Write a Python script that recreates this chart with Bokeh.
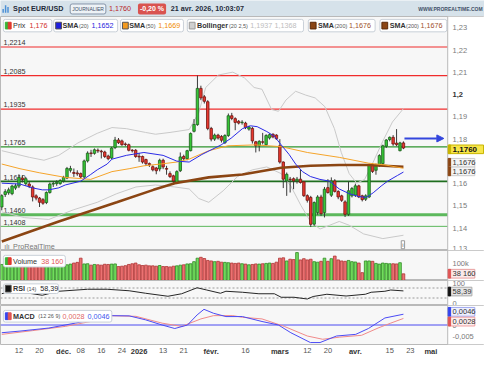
from bokeh.plotting import figure
from bokeh.layouts import column
from bokeh.models import (Range1d, FixedTicker, Label, BoxAnnotation, Arrow,
                          NormalHead, ColumnDataSource, Span, LinearAxis)
from bokeh.core.properties import value
from bokeh.embed import file_html
from bokeh.resources import INLINE

FONT = "Liberation Sans"

# ---------------- data ----------------
opens = [1.1495, 1.1551, 1.1559, 1.1555, 1.1580, 1.1589, 1.1625, 1.1600, 1.1598, 1.1585,
         1.1545, 1.1535, 1.1528, 1.1515, 1.1560, 1.1598, 1.1600, 1.1600, 1.1612, 1.1625,
         1.1660, 1.1650, 1.1648, 1.1645, 1.1630, 1.1702, 1.1738, 1.1736, 1.1750, 1.1746,
         1.1742, 1.1724, 1.1715, 1.1762, 1.1796, 1.1792, 1.1778, 1.1775, 1.1750, 1.1750,
         1.1723, 1.1722, 1.1708, 1.1690, 1.1676, 1.1670, 1.1666, 1.1705, 1.1668, 1.1645,
         1.1635, 1.1605, 1.1658, 1.1722, 1.1712, 1.1748, 1.1835, 1.1865, 1.2028, 1.1990,
         1.1968, 1.1848, 1.1800, 1.1818, 1.1812, 1.1784, 1.1816, 1.1905, 1.1892, 1.1880,
         1.1874, 1.1872, 1.1845, 1.1848, 1.1788, 1.1770, 1.1788, 1.1775, 1.1805, 1.1822,
         1.1818, 1.1770, 1.1697, 1.1612, 1.1620, 1.1622, 1.1612, 1.1620, 1.1608, 1.1546,
         1.1538, 1.1418, 1.1470, 1.1540, 1.1470, 1.1582, 1.1548, 1.1612, 1.1565, 1.1545,
         1.1518, 1.1462, 1.1545, 1.1548, 1.1590, 1.1545, 1.1530, 1.1540, 1.1684, 1.1660,
         1.1680, 1.1690, 1.1768, 1.1798, 1.1808, 1.1782, 1.1748, 1.1783]
highs = [1.1552, 1.1575, 1.1582, 1.1595, 1.1600, 1.1642, 1.1638, 1.1630, 1.1610, 1.1592,
         1.1552, 1.1540, 1.1535, 1.1565, 1.1605, 1.1610, 1.1615, 1.1620, 1.1635, 1.1675,
         1.1680, 1.1668, 1.1660, 1.1650, 1.1708, 1.1745, 1.1752, 1.1758, 1.1758, 1.1752,
         1.1748, 1.1730, 1.1765, 1.1810, 1.1805, 1.1798, 1.1785, 1.1780, 1.1755, 1.1755,
         1.1738, 1.1726, 1.1712, 1.1695, 1.1682, 1.1675, 1.1712, 1.1712, 1.1680, 1.1655,
         1.1640, 1.1660, 1.1740, 1.1730, 1.1752, 1.1830, 1.1890, 1.2086, 1.2040, 1.1998,
         1.1975, 1.1855, 1.1825, 1.1824, 1.1818, 1.1822, 1.1915, 1.1918, 1.1898, 1.1886,
         1.1885, 1.1878, 1.1860, 1.1855, 1.1792, 1.1795, 1.1828, 1.1822, 1.1826, 1.1826,
         1.1822, 1.1800, 1.1700, 1.1650, 1.1630, 1.1628, 1.1630, 1.1665, 1.1612, 1.1552,
         1.1545, 1.1520, 1.1548, 1.1550, 1.1585, 1.1620, 1.1628, 1.1620, 1.1570, 1.1550,
         1.1525, 1.1610, 1.1585, 1.1600, 1.1595, 1.1550, 1.1552, 1.1690, 1.1692, 1.1690,
         1.1732, 1.1775, 1.1800, 1.1812, 1.1818, 1.1845, 1.1788, 1.1790]
lows = [1.1480, 1.1540, 1.1550, 1.1548, 1.1572, 1.1580, 1.1605, 1.1590, 1.1580, 1.1520,
        1.1525, 1.1495, 1.1505, 1.1508, 1.1555, 1.1585, 1.1590, 1.1595, 1.1605, 1.1620,
        1.1650, 1.1630, 1.1635, 1.1622, 1.1625, 1.1695, 1.1720, 1.1730, 1.1738, 1.1713,
        1.1715, 1.1705, 1.1710, 1.1755, 1.1778, 1.1770, 1.1768, 1.1745, 1.1740, 1.1716,
        1.1698, 1.1690, 1.1680, 1.1675, 1.1655, 1.1642, 1.1655, 1.1665, 1.1640, 1.1625,
        1.1598, 1.1598, 1.1652, 1.1705, 1.1705, 1.1745, 1.1830, 1.1860, 1.1975, 1.1960,
        1.1840, 1.1790, 1.1792, 1.1798, 1.1785, 1.1778, 1.1810, 1.1885, 1.1840, 1.1866,
        1.1865, 1.1845, 1.1838, 1.1780, 1.1740, 1.1745, 1.1776, 1.1770, 1.1798, 1.1804,
        1.1796, 1.1690, 1.1580, 1.1545, 1.1560, 1.1575, 1.1600, 1.1600, 1.1540, 1.1515,
        1.1405, 1.1410, 1.1460, 1.1455, 1.1448, 1.1555, 1.1540, 1.1560, 1.1530, 1.1518,
        1.1450, 1.1455, 1.1538, 1.1540, 1.1535, 1.1520, 1.1522, 1.1535, 1.1648, 1.1640,
        1.1675, 1.1680, 1.1760, 1.1790, 1.1770, 1.1768, 1.1745, 1.1755]
closes = [1.1546, 1.1564, 1.1572, 1.1589, 1.1590, 1.1628, 1.1618, 1.1622, 1.1588, 1.1540,
          1.1535, 1.1516, 1.1512, 1.1560, 1.1598, 1.1601, 1.1606, 1.1614, 1.1628, 1.1668,
          1.1668, 1.1646, 1.1644, 1.1630, 1.1702, 1.1737, 1.1735, 1.1752, 1.1747, 1.1743,
          1.1722, 1.1712, 1.1760, 1.1796, 1.1784, 1.1775, 1.1776, 1.1750, 1.1748, 1.1722,
          1.1720, 1.1697, 1.1690, 1.1685, 1.1662, 1.1658, 1.1705, 1.1675, 1.1665, 1.1632,
          1.1612, 1.1654, 1.1720, 1.1712, 1.1748, 1.1825, 1.1866, 1.2028, 1.1985, 1.1970,
          1.1848, 1.1800, 1.1818, 1.1805, 1.1795, 1.1816, 1.1905, 1.1893, 1.1875, 1.1872,
          1.1876, 1.1852, 1.1855, 1.1792, 1.1770, 1.1790, 1.1786, 1.1816, 1.1820, 1.1810,
          1.1802, 1.1697, 1.1620, 1.1642, 1.1618, 1.1612, 1.1620, 1.1605, 1.1546, 1.1525,
          1.1417, 1.1515, 1.1540, 1.1465, 1.1575, 1.1560, 1.1612, 1.1565, 1.1540, 1.1525,
          1.1462, 1.1568, 1.1578, 1.1590, 1.1540, 1.1528, 1.1545, 1.1684, 1.1655, 1.1680,
          1.1726, 1.1770, 1.1796, 1.1808, 1.1778, 1.1775, 1.1783, 1.1760]
volumes = [92000, 95000, 90000, 93000, 88000, 95000, 92000, 90000, 93000, 95000,
           92000, 90000, 88000, 90000, 88000, 92000, 90000, 96000, 92000, 90000,
           94000, 100000, 104000, 128000, 95000, 96000, 88000, 92000, 90000, 88000,
           93000, 92000, 94000, 95000, 80000, 82000, 85000, 92000, 96000, 100000,
           90000, 86000, 88000, 84000, 84000, 82000, 86000, 80000, 80000, 78000,
           82000, 84000, 88000, 90000, 95000, 96000, 108000, 128000, 133000, 126000,
           115000, 112000, 108000, 110000, 105000, 104000, 102000, 100000, 98000, 100000,
           96000, 94000, 90000, 92000, 95000, 94000, 96000, 98000, 100000, 98000,
           105000, 128000, 130000, 112000, 122000, 120000, 160000, 118000, 125000, 118000,
           122000, 108000, 105000, 110000, 128000, 110000, 125000, 140000, 118000, 112000,
           110000, 115000, 108000, 106000, 100000, 45000, 112000, 112000, 110000, 98000,
           94000, 100000, 98000, 96000, 96000, 95000, 102000, 38160]

# x axis: weekday index (0 = 5 nov.); day ticks and (bold) month ticks
day_tick_idx = [5, 11, 23, 29, 35, 47, 53, 71, 89, 95, 113, 119]
day_tick_labels = ["12", "20", "08", "16", "24", "13", "21", "16", "12", "20", "15", "23"]
month_tick_idx = [18, 40, 61, 81, 103, 125]
month_tick_labels = ["déc.", "2026", "févr.", "mars", "avr.", "mai"]

price_ticks = [1.13, 1.14, 1.15, 1.16, 1.17, 1.18, 1.19, 1.21, 1.22, 1.23]
price_tick_labels = ["1,13", "1,14", "1,15", "1,16", "1,17", "1,18", "1,19", "1,21",
                     "1,22", "1,23"]
price_bold_ticks = [1.20]
price_bold_labels = ["1,2"]

res_levels = [1.2214, 1.2085, 1.1935]
sup_levels = [1.1765, 1.1610]
sup_levels_thick = [1.1460]
sup_levels_thin = [1.1408]

sma20_idx = [0, 5.3, 8.9, 11.8, 13.7, 16.6, 18.5, 23.0, 25.9, 27.8, 30.7, 32.1, 36.3, 41.4,
             47.0, 51.0, 54.6, 58.3, 63.9, 66.8, 70.1, 72.4, 74.4, 77.2, 79.4, 81.4, 83.7,
             85.6, 87.6, 89.9, 92.7, 95.5, 98.3, 101.2, 104.0, 106.2, 108.2, 110.5, 112.4,
             115.3, 117.0]
sma20_val = [1.1602, 1.1598, 1.1581, 1.1572, 1.1572, 1.1581, 1.1594, 1.1611, 1.1641, 1.1662,
             1.1688, 1.1710, 1.1727, 1.1740, 1.1727, 1.1701, 1.1697, 1.1731, 1.1774, 1.1804,
             1.1847, 1.1860, 1.1856, 1.1834, 1.1813, 1.1774, 1.1731, 1.1688, 1.1654, 1.1632,
             1.1619, 1.1611, 1.1576, 1.1555, 1.1542, 1.1538, 1.1559, 1.1589, 1.1611, 1.1637,
             1.1652]
sma50_idx = [0, 5.3, 10.9, 18.5, 25.9, 32.1, 37.1, 41.4, 46.2, 51.0, 54.6, 60.3, 65.9,
             73.8, 81.4, 89.0, 98.3, 106.8, 111.6, 117.0]
sma50_val = [1.1688, 1.1667, 1.1649, 1.1628, 1.1619, 1.1654, 1.1667, 1.1680, 1.1688, 1.1697,
             1.1710, 1.1748, 1.1770, 1.1774, 1.1766, 1.1740, 1.1718, 1.1692, 1.1684, 1.1669]
sma200_idx = [0, 16.6, 33.5, 44.2, 50.4, 60.3, 70.1, 81.4, 89.9, 98.3, 106.8, 117.0]
sma200_val = [1.1340, 1.1430, 1.1516, 1.1572, 1.1602, 1.1628, 1.1641, 1.1671, 1.1680,
              1.1684, 1.1684, 1.1676]
boll_up_idx = [0, 8.1, 12.3, 16.6, 22.2, 27.8, 32.1, 36.3, 41.9, 44.8, 49.0, 54.6, 57.4,
               59.4, 63.1, 67.3, 70.7, 73.5, 75.8, 78.6, 80.6, 82.8, 85.6, 88.5, 91.3, 94.1,
               96.9, 98.9, 101.2, 103.4, 105.7, 108.2, 111.0, 113.8, 117.0]
boll_up_val = [1.1748, 1.1718, 1.1705, 1.1727, 1.1783, 1.1826, 1.1852, 1.1847, 1.1830,
               1.1822, 1.1830, 1.1843, 1.1920, 1.2032, 1.2088, 1.2101, 1.2075, 1.2032,
               1.2024, 1.1933, 1.1925, 1.1976, 1.2015, 1.1998, 1.1985, 1.1946, 1.1847,
               1.1740, 1.1645, 1.1602, 1.1619, 1.1697, 1.1791, 1.1877, 1.1937]
boll_lo_idx = [0, 6.7, 13.7, 20.8, 27.8, 33.5, 39.1, 44.8, 50.4, 54.6, 57.4, 60.3, 64.5,
               68.7, 73.0, 77.2, 81.4, 84.2, 87.1, 89.9, 92.7, 95.5, 98.3, 101.2, 105.4,
               111.0, 117.0]
boll_lo_val = [1.1473, 1.1447, 1.1439, 1.1482, 1.1516, 1.1555, 1.1585, 1.1594, 1.1585,
               1.1576, 1.1533, 1.1516, 1.1568, 1.1632, 1.1662, 1.1675, 1.1645, 1.1589,
               1.1503, 1.1430, 1.1396, 1.1413, 1.1430, 1.1413, 1.1374, 1.1353, 1.1368]
rsi_idx = [0, 2.5, 9.0, 11.8, 16.6, 25.0, 30.7, 37.1, 41.9, 48.4, 52.4, 56.9, 59.7, 63.7,
           65.3, 70.1, 74.9, 79.4, 81.4, 85.1, 89.0, 90.7, 94.7, 100.3, 105.9, 107.6, 111.6,
           113.3, 117.0]
rsi_val = [47, 59, 47, 41, 57, 65, 65, 59, 49, 37, 47, 71, 62, 49, 57, 53, 47, 47, 33, 33,
           26, 36, 45, 38, 45, 53, 57, 62, 58.39]
macd_idx = [0, 5.3, 13.7, 21.4, 27.0, 30.7, 37.1, 41.9, 46.7, 50.4, 54.1, 56.9, 58.9, 61.7,
            65.3, 70.1, 75.8, 80.6, 84.2, 89.9, 92.7, 97.5, 103.1, 106.8, 111.6, 117.0]
macd_val = [-0.0033, -0.0026, -0.0013, 0.0008, 0.0025, 0.0040, 0.0039, 0.0022, 0.0000,
            -0.0015, 0.0000, 0.0043, 0.0067, 0.0050, 0.0036, 0.0036, 0.0015, 0.0000,
            -0.0033, -0.0075, -0.0075, -0.0047, -0.0040, -0.0015, 0.0030, 0.0046]
signal_idx = [0, 9.0, 18.5, 25.9, 30.7, 39.1, 46.7, 52.4, 58.0, 61.7, 67.3, 70.1, 75.8,
              82.3, 89.0, 93.5, 98.3, 104.8, 109.6, 113.3, 117.0]
signal_val = [-0.0040, -0.0024, -0.0006, 0.0015, 0.0040, 0.0037, 0.0008, -0.0006, 0.0026,
              0.0040, 0.0040, 0.0033, 0.0026, -0.0006, -0.0047, -0.0061, -0.0052, -0.0044,
              -0.0013, 0.0008, 0.0028]
arrow_level = 1.1803

last_price = 1.1760
change_pct = -0.20
sma20_last, sma50_last, sma200_last = 1.1652, 1.1669, 1.1676
boll_up_last, boll_lo_last = 1.1937, 1.1368
vol_last = 38160
rsi_last = 58.39
macd_last, signal_last = 0.0046, 0.0028


def fr(v, d):
    return f"{v:.{d}f}".replace(".", ",")


# ---------------- layout constants ----------------
W = 484
XR0 = -0.37
UNIT = 130.27 / 462.0          # index units per reference pixel


def X(px):
    return XR0 + px * UNIT


xr = Range1d(XR0, X(500))      # frame spans the whole width; price scale drawn at right


def mk_map(top_px, bot_px, vtop, vbot):
    return lambda py: vtop - (py - top_px) / (bot_px - top_px) * (vtop - vbot)


Ym = mk_map(18, 262, 1.2351, 1.12995)
Yv = mk_map(263, 294, 172000, 0)
Yr = mk_map(295, 321, 100, 0)
Yd = mk_map(322, 362, 0.00833, -0.00833)

PLOT_BG = "#f7f7f7"
GREEN_F, GREEN_L = "#36c736", "#1d5e1d"
RED_F, RED_L = "#e8382e", "#701512"


def style_yaxis(ya, ticks, labels, bold=False):
    ya.ticker = FixedTicker(ticks=ticks)
    ya.major_label_overrides = {t: l for t, l in zip(ticks, labels)}
    ya.major_label_text_font = FONT
    ya.major_label_text_font_size = "7.5px"
    ya.major_label_text_color = "#333333" if bold else "#7a7a7a"
    ya.major_label_text_font_style = "bold" if bold else "normal"
    ya.axis_line_color = None
    ya.major_tick_line_color = None
    ya.major_tick_in = 0
    ya.major_tick_out = 0
    ya.minor_tick_line_color = None
    ya.major_label_standoff = -32


def panel(h, yrange, ticks, labels, bottom_axis=False):
    p = figure(width=W, height=h, x_range=xr, y_range=yrange, output_backend="svg",
               toolbar_location=None, tools="",
               x_axis_location="below" if bottom_axis else None,
               y_axis_location="right", min_border_left=0, min_border_right=0,
               min_border_top=0, min_border_bottom=15 if bottom_axis else 0)
    p.background_fill_color = PLOT_BG
    p.border_fill_color = "white"
    p.outline_line_color = "#b9b9b9"
    p.grid.visible = False
    style_yaxis(p.yaxis[0], ticks, labels)
    # white price-scale strip and its separator line
    p.add_layout(BoxAnnotation(left=X(462), fill_color="white", fill_alpha=1,
                               line_color=None, level="glyph"))
    p.add_layout(Span(location=X(462), dimension="height", line_color="#b9b9b9",
                      line_width=1, level="glyph"))
    return p


def lab(p, x, y, text, size=7.2, color="#333333", bold=False, align="left", **kw):
    p.add_layout(Label(x=x, y=y, text=text, text_font=FONT, text_font_size=f"{size}px",
                       text_color=color, text_font_style="bold" if bold else "normal",
                       text_align=align, text_baseline="middle", **kw))


def box(p, Y, x0, x1, y0, y1, fill="white", line="#c9d0d8", radius=2):
    p.add_layout(BoxAnnotation(left=X(x0), right=X(x1), top=Y(y0), bottom=Y(y1),
                               fill_color=fill, fill_alpha=1, line_color=line,
                               line_alpha=1, line_width=1, border_radius=radius))


def square(p, Y, x0, yc, c1, c2=None, line="#555555"):
    if c2 is None:
        box(p, Y, x0, x0 + 6, yc - 3.5, yc + 3.5, fill=c1, line=line, radius=0)
    else:
        box(p, Y, x0, x0 + 3, yc - 3.5, yc + 3.5, fill=c1, line=c1, radius=0)
        box(p, Y, x0 + 3, x0 + 6, yc - 3.5, yc + 3.5, fill=c2, line=c2, radius=0)


def axis_tag(p, Y, yc, text, marker, bg, border, bold=False, size=7.5, color="#333333",
             x1=490):
    box(p, Y, 463, x1, yc - 4.5, yc + 4.5, fill=bg, line=border, radius=0)
    box(p, Y, 462.5, 465, yc - 4.5, yc + 4.5, fill=marker, line=marker, radius=0)
    lab(p, X(467), Y(yc), text, size, color, bold=bold)


# ---------------- header ----------------
hdr = figure(width=W, height=16, x_range=Range1d(0, 500), y_range=Range1d(17, 0),
             output_backend="svg", toolbar_location=None, tools="", x_axis_location=None,
             y_axis_location=None, min_border=0)
hdr.background_fill_color = "#d6e2ea"
hdr.border_fill_color = "#d6e2ea"
hdr.outline_line_color = None
hdr.grid.visible = False
hdr.quad(left=[2, 4.5, 7], right=[3.5, 6, 8.5], top=[9, 5, 7], bottom=[13, 13, 13],
         fill_color="#4a8fd6", line_color=None)
lab(hdr, 13, 9, "Spot EUR/USD", 7.2, "#1e2a38", bold=True)
hdr.add_layout(Label(x=72, y=9, text="JOURNALIER", text_font=FONT, text_font_size="5px",
                     text_color="#3d4f66", text_baseline="middle",
                     background_fill_color="#edf2f6", border_line_color="#8796aa",
                     padding=2, border_radius=2))
lab(hdr, 112, 9, fr(last_price, 4), 7.2, "#b8252a")
hdr.add_layout(Label(x=142, y=9, text=fr(change_pct, 2) + " %", text_font=FONT,
                     text_font_size="7px", text_color="white", text_font_style="bold",
                     text_baseline="middle", background_fill_color="#d9534f",
                     padding=2, border_radius=2))
lab(hdr, 176, 9, "21 avr. 2026, 10:03:07", 7.2, "#1e2a38", bold=True)
lab(hdr, 498, 9.5, "WWW.PROREALTIME.COM", 5, "#3f5068", bold=True, align="right")

# ---------------- main price panel ----------------
pm = panel(234, Range1d(1.12995, 1.2351), price_ticks, price_tick_labels)
ya2 = LinearAxis()
style_yaxis(ya2, price_bold_ticks, price_bold_labels, bold=True)
pm.add_layout(ya2, "right")

for v in res_levels:
    pm.add_layout(Span(location=v, dimension="width", line_color="#f02c2c", line_width=1.2,
                       level="underlay"))
for v in sup_levels[:1]:
    pm.add_layout(Span(location=v, dimension="width", line_color="#2e942e", line_width=1.2,
                       level="underlay"))
for v in sup_levels[1:]:
    pm.add_layout(Span(location=v, dimension="width", line_color="#1f6e1f", line_width=1.8,
                       level="underlay"))
for v in sup_levels_thick:
    pm.add_layout(Span(location=v, dimension="width", line_color="#5cb85c", line_width=3,
                       level="underlay"))
for v in sup_levels_thin:
    pm.add_layout(Span(location=v, dimension="width", line_color="#5cb85c", line_width=1,
                       level="underlay"))
lvl_all = res_levels + sup_levels + sup_levels_thick + sup_levels_thin
pm.text(x=[X(3)] * len(lvl_all), y=[v + 0.0008 for v in lvl_all],
        text=[fr(v, 4) for v in lvl_all], text_font=value(FONT), text_font_size="7.2px",
        text_color="#333333", text_baseline="bottom")

idx = list(range(len(opens)))
up = [c >= o for o, c in zip(opens, closes)]
src = ColumnDataSource(dict(
    x=idx, o=opens, h=highs, l=lows, c=closes,
    top=[max(o, c) for o, c in zip(opens, closes)],
    bot=[min(o, c) for o, c in zip(opens, closes)],
    fill=[GREEN_F if u else RED_F for u in up],
    line=[GREEN_L if u else RED_L for u in up],
    vol=volumes,
    vfill=["#72dc5e" if u else "#ec7272" for u in up],
    vline=["#2f8a22" if u else "#b03434" for u in up],
))

pm.line(boll_up_idx, boll_up_val, line_color="#c9c9c9", line_width=1)
pm.line(boll_lo_idx, boll_lo_val, line_color="#c9c9c9", line_width=1)
pm.segment(x0="x", y0="l", x1="x", y1="h", source=src, line_color="#3a3a3a", line_width=1)
pm.vbar(x="x", width=0.72, top="top", bottom="bot", fill_color="fill", line_color="line",
        line_width=0.8, source=src)
pm.line(sma200_idx, sma200_val, line_color="#8b4513", line_width=2.6)
pm.line(sma50_idx, sma50_val, line_color="#f5a42a", line_width=1)
pm.line(sma20_idx, sma20_val, line_color="#2b2be6", line_width=1)

pm.add_layout(Arrow(end=NormalHead(size=7, fill_color="#3346dd", line_color="#3346dd"),
                    x_start=idx[-1] + 0.3, y_start=arrow_level, x_end=X(458),
                    y_end=arrow_level, line_color="#3346dd", line_width=2))

# legend row
yc = 27.5
box(pm, Ym, 3, 53, 21, 34)
square(pm, Ym, 5, yc, "#36b536", "#e03a30")
lab(pm, X(13), Ym(yc), "Prix")
lab(pm, X(30), Ym(yc), fr(last_price, 3), color="#d0302a")

box(pm, Ym, 55, 121, 21, 34)
square(pm, Ym, 57, yc, "#1f1fe0")
lab(pm, X(64), Ym(yc), "SMA", bold=True)
lab(pm, X(81), Ym(yc), "(20)", 5.5, "#555555")
lab(pm, X(94), Ym(yc), fr(sma20_last, 4), color="#2525dd")

box(pm, Ym, 124, 189, 21, 34)
square(pm, Ym, 126, yc, "#f39a1e")
lab(pm, X(133), Ym(yc), "SMA", bold=True)
lab(pm, X(150), Ym(yc), "(50)", 5.5, "#555555")
lab(pm, X(163), Ym(yc), fr(sma50_last, 4), color="#f08c00")

box(pm, Ym, 193, 313, 21, 34)
square(pm, Ym, 195, yc, "#cfcfcf", line="#999999")
lab(pm, X(203), Ym(yc), "Bollinger", bold=True)
lab(pm, X(236), Ym(yc), "(20 2,5)", 5.5, "#555555")
lab(pm, X(258), Ym(yc), fr(boll_up_last, 4), color="#bdbdbd")
lab(pm, X(283), Ym(yc), fr(boll_lo_last, 4), color="#bdbdbd")

for bx in (318, 392):
    box(pm, Ym, bx, bx + 69, 21, 34)
    square(pm, Ym, bx + 2, yc, "#8b4513", line="#5a2a08")
    lab(pm, X(bx + 10), Ym(yc), "SMA", bold=True)
    lab(pm, X(bx + 27), Ym(yc), "(200)", 5.5, "#555555")
    lab(pm, X(bx + 42), Ym(yc), fr(sma200_last, 4), color="#a0522d")

lab(pm, X(4), Ym(258), "\u0131l\u0131", 7, "#777777")
lab(pm, X(13), Ym(258), "ProRealTime", 7.2, "#777777")
pm.add_layout(Label(x=X(414), y=Ym(256), text="i", text_font=FONT, text_font_size="6px",
                    text_color="#555555", text_baseline="middle",
                    background_fill_color="white", border_line_color="#999999", padding=1))

axis_tag(pm, Ym, 156.5, fr(last_price, 4), "#c8b400", "#f7e64a", "#c8b400", bold=True,
         size=8, color="#111111", x1=499)
axis_tag(pm, Ym, 170.5, fr(sma200_last, 4), "#8b4513", "#f4f4f4", "#cccccc")
axis_tag(pm, Ym, 179.5, fr(sma200_last, 4), "#8b4513", "#f4f4f4", "#cccccc")

# ---------------- volume panel ----------------
pv = panel(30, Range1d(0, 172000), [100000], ["100k"])
pv.vbar(x="x", width=0.78, top="vol", bottom=0, fill_color="vfill", line_color="vline",
        line_width=0.8, source=src)
box(pv, Yv, 3, 67, 268, 280)
square(pv, Yv, 5, 274, "#36b536", "#e03a30")
lab(pv, X(13), Yv(274), "Volume")
lab(pv, X(42), Yv(274), f"{vol_last:,}".replace(",", " "), color="#e05555")
axis_tag(pv, Yv, 287, f"{vol_last:,}".replace(",", " "), "#e05555", "#fbeaea", "#e8a0a0")

# ---------------- RSI panel ----------------
pr = panel(25, Range1d(0, 100), [0, 100], ["0", "100"])
pr.add_layout(Span(location=70, dimension="width", line_color="#9a9a9a", line_width=1,
                   line_dash="2 2", level="underlay"))
pr.add_layout(Span(location=30, dimension="width", line_color="#9a9a9a", line_width=1,
                   line_dash="2 2", level="underlay"))
pr.line(rsi_idx, rsi_val, line_color="#262626", line_width=1)
box(pr, Yr, 3, 60, 298.5, 308.5)
square(pr, Yr, 5, 303.5, "#111111")
lab(pr, X(13), Yr(303.5), "RSI", bold=True)
lab(pr, X(27), Yr(303.5), "(14)", 5.5, "#555555")
lab(pr, X(41), Yr(303.5), fr(rsi_last, 2), color="#222222")
axis_tag(pr, Yr, 306.5, fr(rsi_last, 2), "#111111", "#e4e4e4", "#aaaaaa", x1=487)

# ---------------- MACD panel ----------------
pd_ = panel(54, Range1d(-0.00833, 0.00833), [-0.005, 0, 0.005], ["-0,005", "0", "0,005"],
            bottom_axis=True)
pd_.add_layout(Span(location=0, dimension="width", line_color="#4a4af0", line_width=1,
                    level="underlay"))
pd_.line(signal_idx, signal_val, line_color="#f08a8a", line_width=1)
pd_.line(macd_idx, macd_val, line_color="#4a4af5", line_width=1)
box(pd_, Yd, 3, 115, 327, 339)
square(pd_, Yd, 5, 333, "#3344ee", "#e05555")
lab(pd_, X(13), Yd(333), "MACD", bold=True)
lab(pd_, X(39), Yd(333), "(12 26 9)", 5.5, "#555555")
lab(pd_, X(64), Yd(333), fr(signal_last, 4), color="#e06666")
lab(pd_, X(90), Yd(333), fr(macd_last, 4), color="#4455ee")
axis_tag(pd_, Yd, 328.5, fr(macd_last, 4), "#3344ee", "#eef0ff", "#a0a8f0")
axis_tag(pd_, Yd, 338.5, fr(signal_last, 4), "#e05555", "#fdeeee", "#f0a0a0")


def style_xaxis(xa, ticks, labels, bold=False, standoff=3):
    xa.ticker = FixedTicker(ticks=ticks)
    xa.major_label_overrides = {t: l for t, l in zip(ticks, labels)}
    xa.major_label_text_font = FONT
    xa.major_label_text_font_size = "7.5px"
    xa.major_label_text_color = "#333333" if bold else "#555555"
    xa.major_label_text_font_style = "bold" if bold else "normal"
    xa.axis_line_color = None
    xa.major_tick_line_color = None
    xa.major_tick_in = 0
    xa.major_tick_out = 0
    xa.minor_tick_line_color = None
    xa.major_label_standoff = standoff


style_xaxis(pd_.xaxis[0], day_tick_idx, day_tick_labels)
xa2 = LinearAxis()
pd_.add_layout(xa2, "below")
style_xaxis(xa2, month_tick_idx, month_tick_labels, bold=True, standoff=-9)

layout = column(hdr, pm, pv, pr, pd_, spacing=0)
open("out.html", "w").write(file_html(layout, INLINE))
